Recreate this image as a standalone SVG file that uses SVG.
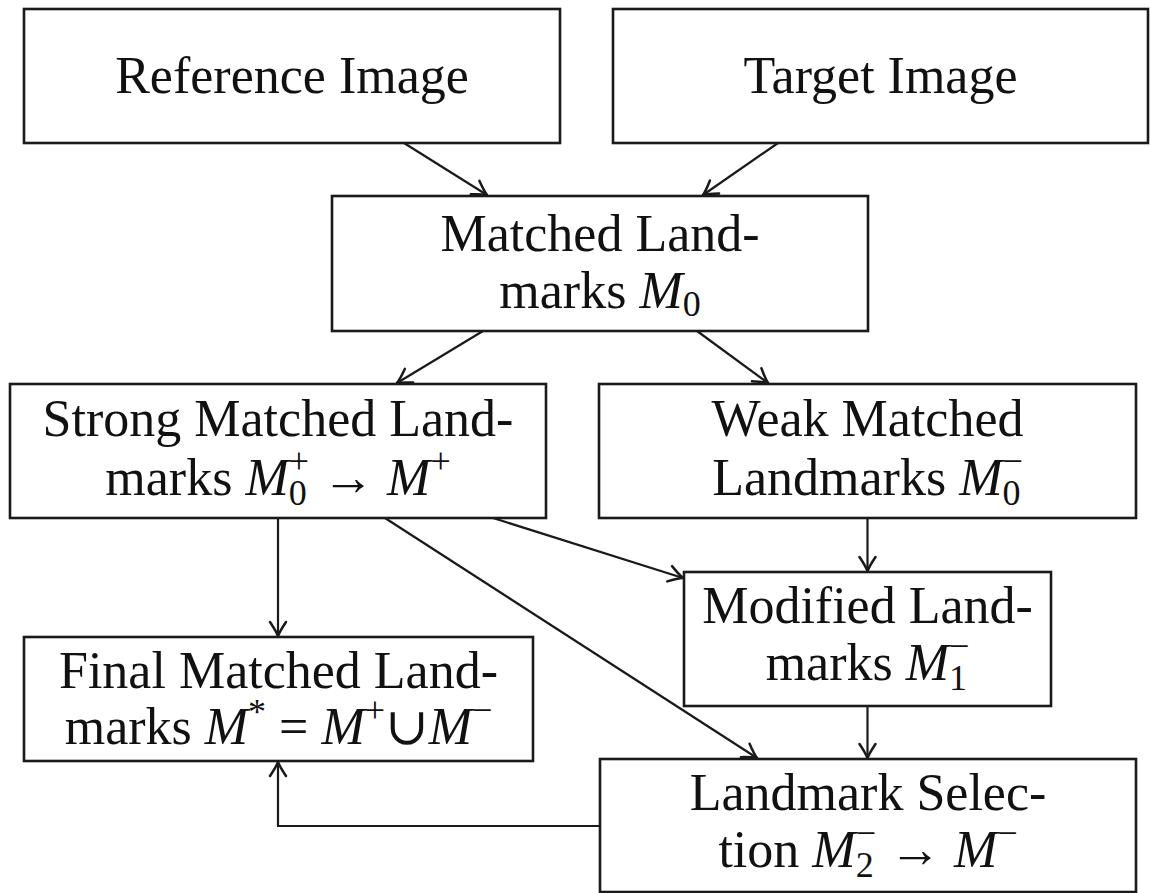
<svg xmlns="http://www.w3.org/2000/svg" width="1150" height="893" viewBox="0 0 1150 893">
  <style>
    .box { fill: #ffffff; stroke: #1a1a1a; stroke-width: 2.6; }
    .lbl { font-family: "Liberation Serif", "DejaVu Serif", serif; font-size: 52px; fill: #111111; text-anchor: middle; }
    .m { font-style: italic; }
    .s { font-size: 36px; }
    .edge { fill: none; stroke: #1a1a1a; stroke-width: 2.2; marker-end: url(#tip); }
  </style>
  <defs>
    <!-- curved-barb arrow tip shared by every connector -->
    <marker id="tip" markerUnits="userSpaceOnUse" markerWidth="20" markerHeight="20" viewBox="-17 -10 20 20" refX="0" refY="0" orient="auto">
      <path d="M -14,-8 Q -5,-2 0,0 Q -5,2 -14,8" fill="none" stroke="#1a1a1a" stroke-width="2.5" stroke-linecap="round" stroke-linejoin="round"/>
    </marker>
  </defs>
  <rect width="1150" height="893" fill="#ffffff"/>

  <!-- connectors -->
  <g id="connectors">
    <line class="edge" x1="404" y1="143" x2="487" y2="195"/>
    <line class="edge" x1="778" y1="143" x2="703" y2="195"/>
    <line class="edge" x1="483" y1="331" x2="397" y2="383"/>
    <line class="edge" x1="697" y1="331" x2="768" y2="383"/>
    <line class="edge" x1="278" y1="518" x2="278" y2="636"/>
    <line class="edge" x1="493" y1="518" x2="683" y2="578"/>
    <line class="edge" x1="385" y1="518" x2="757" y2="758"/>
    <line class="edge" x1="867.5" y1="518" x2="867.5" y2="571"/>
    <line class="edge" x1="867.5" y1="706" x2="867.5" y2="758"/>
    <polyline class="edge" points="600,826 278,826 278,762"/>
  </g>

  <g id="reference-image">
    <rect class="box" x="24" y="9" width="536" height="134"/>
    <text class="lbl" x="292" y="93">Reference Image</text>
  </g>

  <g id="target-image">
    <rect class="box" x="613" y="9" width="535" height="134"/>
    <text class="lbl" x="880.5" y="93">Target Image</text>
  </g>

  <g id="matched-landmarks">
    <rect class="box" x="332" y="196" width="536" height="135"/>
    <text class="lbl" x="600" y="251">Matched Land-</text>
    <text class="lbl" x="600" y="308">marks <tspan class="m">M</tspan><tspan class="s" dy="8">0</tspan></text>
  </g>

  <g id="strong-matched">
    <rect class="box" x="10" y="384" width="536" height="134"/>
    <text class="lbl" x="278" y="436">Strong Matched Land-</text>
    <text class="lbl" x="278" y="495">marks <tspan class="m">M</tspan><tspan class="s" dy="10">0</tspan><tspan class="s" dx="-18" dy="-32">+</tspan><tspan dy="22"> → </tspan><tspan class="m">M</tspan><tspan class="s" dy="-22">+</tspan></text>
  </g>

  <g id="weak-matched">
    <rect class="box" x="599" y="384" width="537" height="134"/>
    <text class="lbl" x="867.5" y="436">Weak Matched</text>
    <text class="lbl" x="867.5" y="495">Landmarks <tspan class="m">M</tspan><tspan class="s" dy="10">0</tspan><tspan class="s" dx="-18" dy="-32">−</tspan></text>
  </g>

  <g id="modified-landmarks">
    <rect class="box" x="684" y="572" width="367" height="134"/>
    <text class="lbl" x="867.5" y="623">Modified Land-</text>
    <text class="lbl" x="867.5" y="680">marks <tspan class="m">M</tspan><tspan class="s" dy="10">1</tspan><tspan class="s" dx="-18" dy="-32">−</tspan></text>
  </g>

  <g id="final-matched">
    <rect class="box" x="24" y="637" width="509" height="124"/>
    <text class="lbl" x="278.5" y="688">Final Matched Land-</text>
    <text class="lbl" x="278.5" y="744">marks <tspan class="m">M</tspan><tspan class="s" dy="-20">*</tspan><tspan dy="20"> = </tspan><tspan class="m">M</tspan><tspan class="s" dy="-22">+</tspan><tspan dy="22">∪</tspan><tspan class="m">M</tspan><tspan class="s" dy="-22">−</tspan></text>
  </g>

  <g id="landmark-selection">
    <rect class="box" x="600" y="759" width="536" height="133"/>
    <text class="lbl" x="868" y="810">Landmark Selec-</text>
    <text class="lbl" x="868" y="867">tion <tspan class="m">M</tspan><tspan class="s" dy="10">2</tspan><tspan class="s" dx="-18" dy="-32">−</tspan><tspan dy="22"> → </tspan><tspan class="m">M</tspan><tspan class="s" dy="-22">−</tspan></text>
  </g>
</svg>
